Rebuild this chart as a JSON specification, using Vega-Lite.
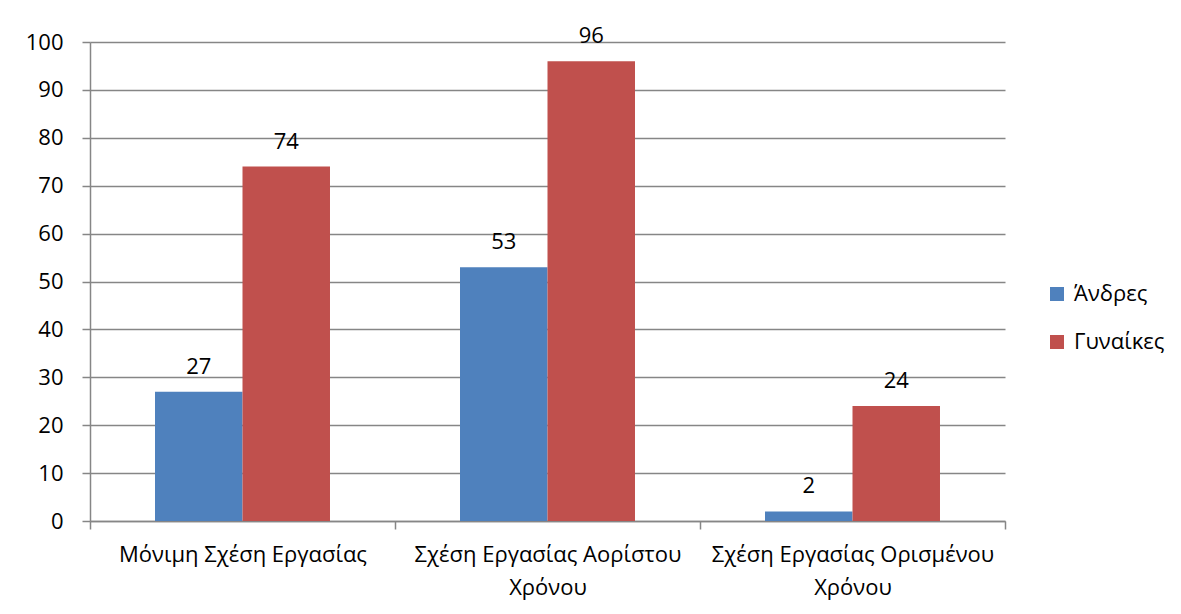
{
  "$schema": "https://vega.github.io/schema/vega-lite/v6.json",
  "width": 915,
  "height": 479,
  "autosize": {"type": "none"},
  "padding": {"left": 90, "top": 42, "right": 176, "bottom": 93},
  "background": "white",
  "data": {
    "values": [
      {"category": "Μόνιμη Σχέση Εργασίας", "group": "Άνδρες", "value": 27},
      {"category": "Μόνιμη Σχέση Εργασίας", "group": "Γυναίκες", "value": 74},
      {"category": "Σχέση Εργασίας Αορίστου Χρόνου", "group": "Άνδρες", "value": 53},
      {"category": "Σχέση Εργασίας Αορίστου Χρόνου", "group": "Γυναίκες", "value": 96},
      {"category": "Σχέση Εργασίας Ορισμένου Χρόνου", "group": "Άνδρες", "value": 2},
      {"category": "Σχέση Εργασίας Ορισμένου Χρόνου", "group": "Γυναίκες", "value": 24}
    ]
  },
  "config": {
    "font": "Open Sans",
    "view": {"stroke": null},
    "axis": {"labelFont": "Open Sans", "labelColor": "black"},
    "legend": {"labelFont": "Open Sans"}
  },
  "encoding": {
    "x": {
      "field": "category",
      "type": "nominal",
      "sort": null,
      "scale": {"paddingInner": 0, "paddingOuter": 0},
      "axis": {
        "title": null,
        "labelAngle": 0,
        "labelFontSize": 22,
        "labelLimit": 0,
        "labelPadding": 15,
        "labelLineHeight": 33,
        "labelBaseline": "top",
        "labelExpr": "indexof(datum.label, ' Χρόνου') > 0 ? [replace(datum.label, ' Χρόνου', ''), 'Χρόνου'] : datum.label",
        "tickBand": "extent",
        "tickSize": 8,
        "tickColor": "#868686",
        "tickWidth": 1.5,
        "domainColor": "#868686",
        "domainWidth": 1.5,
        "grid": false
      }
    },
    "xOffset": {
      "field": "group",
      "type": "nominal",
      "sort": ["Άνδρες", "Γυναίκες"],
      "scale": {"paddingInner": 0, "paddingOuter": 0.743}
    },
    "y": {
      "field": "value",
      "type": "quantitative",
      "scale": {"domain": [0, 100], "nice": false},
      "axis": {
        "title": null,
        "values": [0, 10, 20, 30, 40, 50, 60, 70, 80, 90, 100],
        "labelFontSize": 22,
        "labelPadding": 19,
        "tickSize": 8,
        "tickColor": "#868686",
        "tickWidth": 1.5,
        "domainColor": "#868686",
        "domainWidth": 1.5,
        "gridColor": "#868686",
        "gridWidth": 1.5
      }
    }
  },
  "layer": [
    {
      "mark": {"type": "bar"},
      "encoding": {
        "color": {
          "field": "group",
          "type": "nominal",
          "sort": ["Άνδρες", "Γυναίκες"],
          "scale": {"domain": ["Άνδρες", "Γυναίκες"], "range": ["#4F81BD", "#C0504D"]},
          "legend": {
            "title": null,
            "orient": "none",
            "legendX": 956,
            "legendY": 241,
            "symbolType": "square",
            "symbolSize": 196,
            "symbolStrokeWidth": 0,
            "symbolOpacity": 1,
            "labelFontSize": 22,
            "labelLimit": 0,
            "labelColor": "black",
            "labelOffset": 6,
            "rowPadding": 26
          }
        }
      }
    },
    {
      "mark": {"type": "text", "fontSize": 22, "color": "black", "baseline": "middle", "dy": -25},
      "encoding": {
        "text": {"field": "value", "type": "quantitative"}
      }
    }
  ]
}
